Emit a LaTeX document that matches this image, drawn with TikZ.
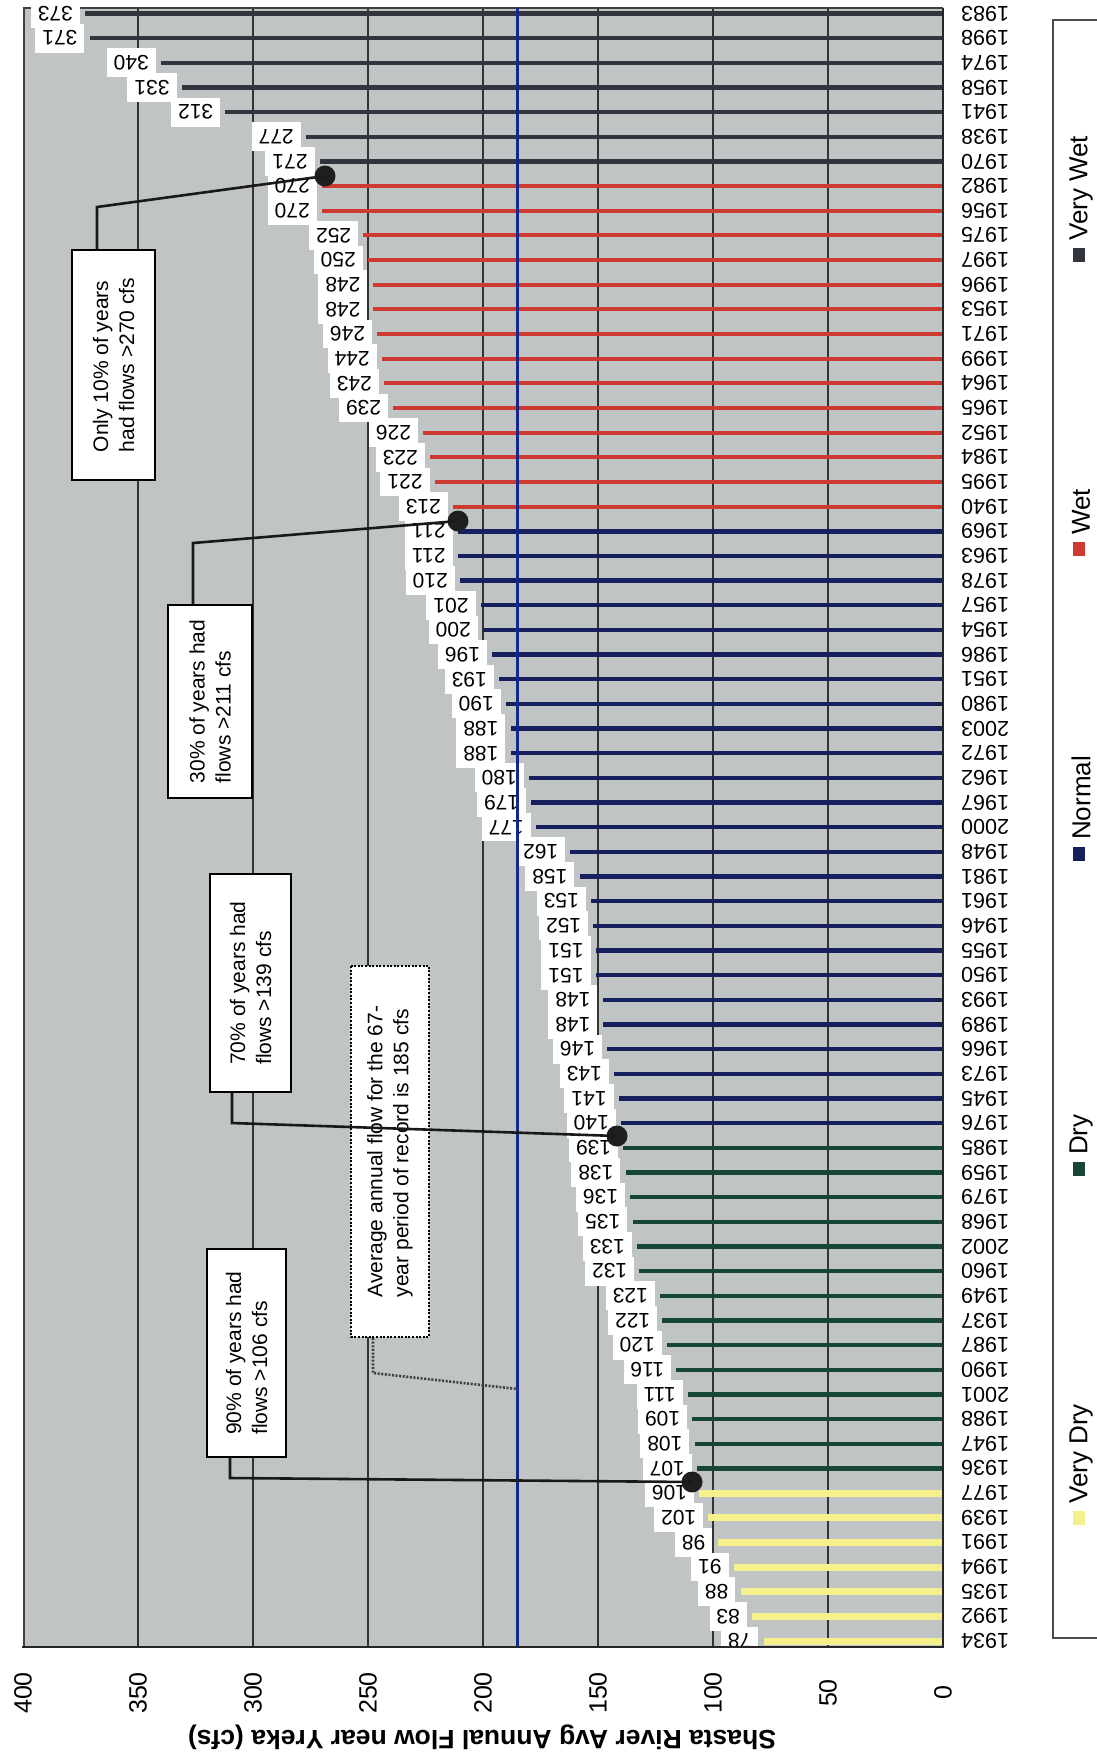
\documentclass[tikz,border=0pt]{standalone}
\usepackage{fontspec}
\setmainfont{Liberation Sans}
\usetikzlibrary{calc}
\definecolor{plotgray}{RGB}{192,196,196}
\definecolor{vdry}{RGB}{246,240,140}
\definecolor{dryc}{RGB}{22,70,52}
\definecolor{normc}{RGB}{22,32,92}
\definecolor{wetc}{RGB}{206,58,50}
\definecolor{vwetc}{RGB}{50,52,62}
\definecolor{avgblue}{RGB}{20,40,140}
\begin{document}
\begin{tikzpicture}[x=1pt,y=-1pt,
  gridl/.style={line width=1.1pt, black!80},
  dlabel/.style={rotate=180, fill=white, inner xsep=7pt, inner ysep=7pt, anchor=west, font=\fontsize{21}{21}\selectfont},
  ylabel/.style={rotate=180, inner sep=0pt, anchor=east, font=\fontsize{21.5}{21.5}\selectfont},
  tlabel/.style={rotate=90, inner sep=0pt, font=\fontsize{25}{25}\selectfont},
  note/.style={rotate=90, draw=black, line width=1.8pt, fill=white, align=left, font=\fontsize{21}{26}\selectfont, inner sep=8pt},
  leader/.style={line width=2.6pt, black!90},
  dotmark/.style={circle, fill=black!88, inner sep=0pt, minimum size=21pt},
  legtext/.style={rotate=90, anchor=west, inner sep=0pt, font=\fontsize{26}{26}\selectfont},
  legmark/.style={rectangle, inner sep=0pt, minimum width=12pt, minimum height=14pt},
]
\useasboundingbox (0,0) rectangle (1097,1757);
\fill[white] (0,0) rectangle (1097,1757);
% plot area
\fill[plotgray] (24,8) rectangle (943,1647);
\draw[line width=1.2pt, black!75] (24,1647) -- (24,8) -- (943,8);
\foreach \v in {50,100,...,350} { \draw[gridl] ({943-2.3*\v},8) -- ({943-2.3*\v},1647); }
% bars and year labels
\foreach \i/\yr/\v in {1/1934/78, 2/1992/83, 3/1935/88, 4/1994/91, 5/1991/98, 6/1939/102, 7/1977/106, 8/1936/107, 9/1947/108, 10/1988/109, 11/2001/111, 12/1990/116, 13/1987/120, 14/1937/122, 15/1949/123, 16/1960/132, 17/2002/133, 18/1968/135, 19/1979/136, 20/1959/138, 21/1985/139, 22/1976/140, 23/1945/141, 24/1973/143, 25/1966/146, 26/1989/148, 27/1993/148, 28/1950/151, 29/1955/151, 30/1946/152, 31/1961/153, 32/1981/158, 33/1948/162, 34/2000/177, 35/1967/179, 36/1962/180, 37/1972/188, 38/2003/188, 39/1980/190, 40/1951/193, 41/1986/196, 42/1954/200, 43/1957/201, 44/1978/210, 45/1963/211, 46/1969/211, 47/1940/213, 48/1995/221, 49/1984/223, 50/1952/226, 51/1965/239, 52/1964/243, 53/1999/244, 54/1971/246, 55/1953/248, 56/1996/248, 57/1997/250, 58/1975/252, 59/1956/270, 60/1982/270, 61/1970/271, 62/1938/277, 63/1941/312, 64/1958/331, 65/1974/340, 66/1998/371, 67/1983/373}{
  \pgfmathsetmacro\yy{1641-(\i-1)*24.66}
  \pgfmathsetmacro\xe{943-2.3*\v}
  \ifnum\i<8 \def\bc{vdry}\def\bw{7}\else
   \ifnum\i<22 \def\bc{dryc}\def\bw{4.4}\else
    \ifnum\i<47 \def\bc{normc}\def\bw{4.4}\else
     \ifnum\i<61 \def\bc{wetc}\def\bw{4.2}\else \def\bc{vwetc}\def\bw{4.2}\fi\fi\fi\fi
  \draw[line width=\bw pt, color=\bc] (943,\yy) -- (\xe,\yy);
  \node[ylabel] (yr\i) at (961,\yy) {\yr};
  \node[dlabel] (lab\i) at ({\xe-5},\yy) {\v};
}
% average line
\coordinate (avgT) at (517.5,8);
\coordinate (avgB) at (517.5,1647);
\draw[avgblue, line width=2.6pt] (avgT) -- (avgB);
% axes
\draw[line width=2.5pt, black!85] (22,1647) -- (944,1647);
\draw[line width=2pt, black!85] (943,8) -- (943,1648);
% tick labels
\foreach \v in {0,50,...,400} { \node[tlabel] (t\v) at ({943-2.3*\v},1693) {\v}; }
% title
\node[rotate=180, inner sep=0pt, font=\bfseries\fontsize{26.5}{26.5}\selectfont] (title) at (482,1737) {Shasta River Avg Annual Flow near Yreka (cfs)};
% annotation boxes
\node[note, minimum width=230pt, minimum height=83pt] (b1) at (113.5,365) {Only 10\% of years\\had flows >270 cfs};
\node[note, minimum width=193pt, minimum height=84pt] (b2) at (210,701.5) {30\% of years had\\flows >211 cfs};
\node[note, minimum width=218pt, minimum height=81pt] (b3) at (250.5,983) {70\% of years had\\flows >139 cfs};
\node[note, minimum width=208pt, minimum height=79pt] (b4) at (246.5,1353) {90\% of years had\\flows >106 cfs};
\node[note, dash pattern=on 2pt off 1.6pt, line width=2.2pt, minimum width=371pt, minimum height=78pt] (b5) at (390,1151.5) {Average annual flow for the 67-\\year period of record is 185 cfs};
% dots
\node[dotmark] (d1) at (325,176) {};
\node[dotmark] (d2) at (458,521) {};
\node[dotmark] (d3) at (617,1136) {};
\node[dotmark] (d4) at (692,1482) {};
% leaders
\coordinate (k1) at (97,207);
\draw[leader] (k1 |- b1.east) -- (k1) -- (d1.center);
\coordinate (k2) at (193,543);
\draw[leader] (k2 |- b2.east) -- (k2) -- (d2.center);
\coordinate (k3) at (232,1123);
\draw[leader] (k3 |- b3.west) -- (k3) -- (d3.center);
\coordinate (k4) at (230,1478);
\draw[leader] (k4 |- b4.west) -- (k4) -- (d4.center);
\coordinate (k5) at (373,1373);
\coordinate (a5) at (517.5,1389);
\draw[leader, black!75, dash pattern=on 2pt off 1.6pt] (k5 |- b5.west) -- (k5) -- (a5);
% legend
\draw[line width=1.5pt, black!70] (1097,20) -- (1053,20) -- (1053,1638) -- (1097,1638);
\node[legmark, fill=vwetc] (m1) at (1079,255) {};
\node[legtext] (lg1) at (1081,241) {Very Wet};
\node[legmark, fill=wetc] (m2) at (1079,549) {};
\node[legtext] (lg2) at (1081,535) {Wet};
\node[legmark, fill=normc] (m3) at (1079,854) {};
\node[legtext] (lg3) at (1081,840) {Normal};
\node[legmark, fill=dryc] (m4) at (1079,1169) {};
\node[legtext] (lg4) at (1081,1155) {Dry};
\node[legmark, fill=vdry] (m5) at (1079,1518) {};
\node[legtext] (lg5) at (1081,1504) {Very Dry};
\end{tikzpicture}
\end{document}
